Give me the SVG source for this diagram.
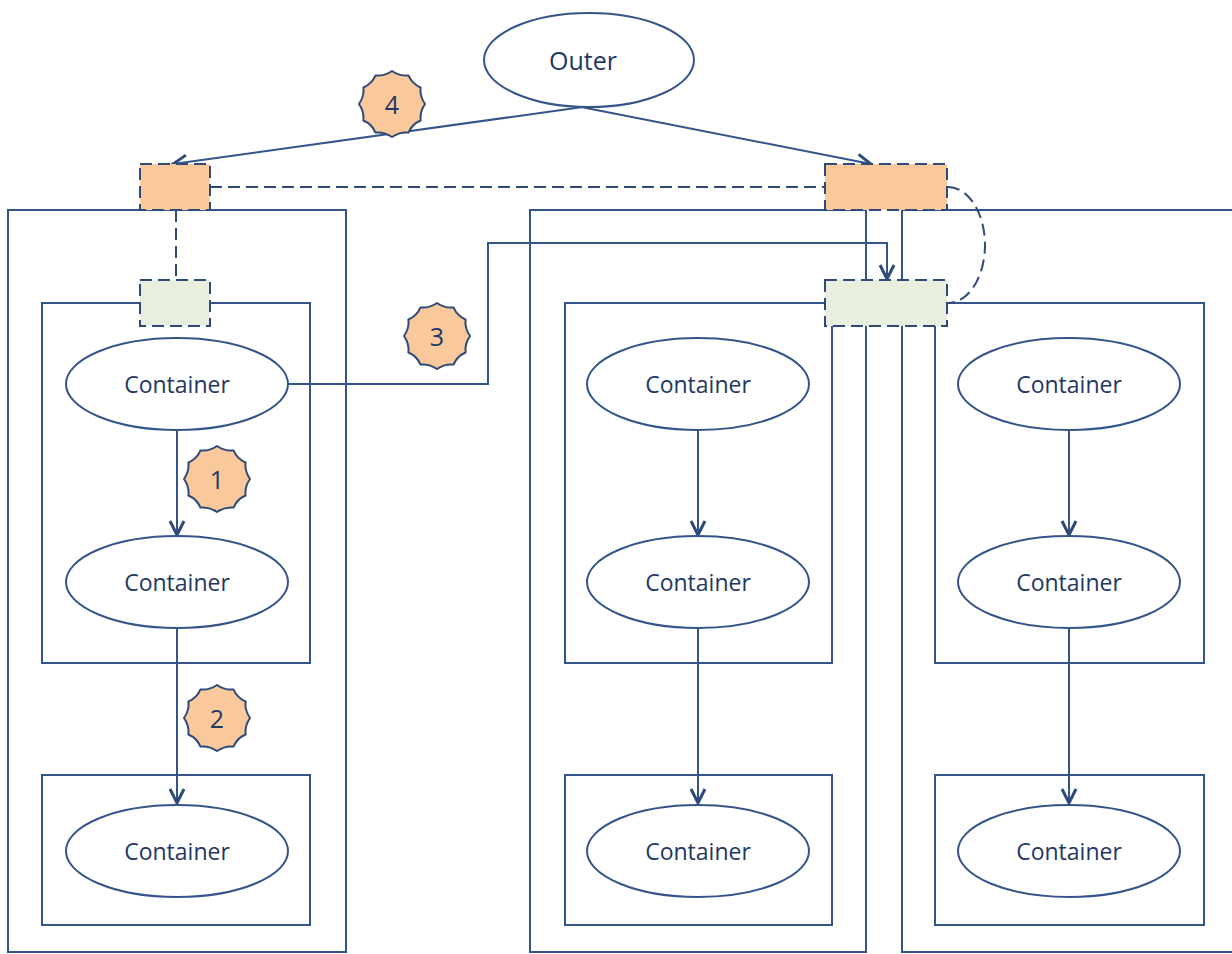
<svg xmlns="http://www.w3.org/2000/svg" width="1232" height="954" viewBox="0 0 1232 954">
<style>
.box{fill:none;stroke:#34558a;stroke-width:2}
.ell{fill:#ffffff;stroke:#34558a;stroke-width:2}
.port-o{fill:#f9c99c;stroke:#2f4a78;stroke-width:2;stroke-dasharray:12 6}
.port-g{fill:#e8efdf;stroke:#2f4a78;stroke-width:2;stroke-dasharray:12 6}
.dash{fill:none;stroke:#2f4a78;stroke-width:2;stroke-dasharray:12 6}
.arr{fill:none;stroke:#34558a;stroke-width:2;marker-end:url(#ah)}
.lbl{font-family:"Open Sans","Liberation Sans",sans-serif;font-size:23px;fill:#1f3864;text-anchor:middle;dominant-baseline:central}
.big{font-size:25px}
.badge{fill:#f9c99c;stroke:#2f4a78;stroke-width:2;stroke-linejoin:round}
.num{font-family:"Open Sans","Liberation Sans",sans-serif;font-size:25px;fill:#1f3864;text-anchor:middle;dominant-baseline:central}
</style>
<defs>
<marker id="ah" markerWidth="20" markerHeight="20" refX="15" refY="9" orient="auto" markerUnits="userSpaceOnUse">
<path d="M1,2 L15,9 L1,16" fill="none" stroke="#2f4a78" stroke-width="3"/>
</marker>
<path id="star" d="M0,-33 Q8,-27.5 16.5,-28.6 Q20.1,-20.1 28.6,-16.5 Q27.5,-8 33,0 Q27.5,8 28.6,16.5 Q20.1,20.1 16.5,28.6 Q8,27.5 0,33 Q-8,27.5 -16.5,28.6 Q-20.1,20.1 -28.6,16.5 Q-27.5,8 -33,0 Q-27.5,-8 -28.6,-16.5 Q-20.1,-20.1 -16.5,-28.6 Q-8,-27.5 0,-33Z"/>
</defs>
<rect width="1232" height="954" fill="#ffffff"/>

<g id="hosts">
<rect id="host-left" class="box" x="8" y="210" width="338" height="742"/>
<rect id="host-mid" class="box" x="530" y="210" width="336" height="742"/>
<rect id="host-right" class="box" x="902" y="210" width="340" height="742"/>
</g>

<g id="pods">
<rect id="pod-l1" class="box" x="42" y="303" width="268" height="360"/>
<rect id="pod-l2" class="box" x="42" y="775" width="268" height="150"/>
<rect id="pod-m1" class="box" x="565" y="303" width="267" height="360"/>
<rect id="pod-m2" class="box" x="565" y="775" width="267" height="150"/>
<rect id="pod-r1" class="box" x="935" y="303" width="269" height="360"/>
<rect id="pod-r2" class="box" x="935" y="775" width="269" height="150"/>
</g>

<g id="connectors">
<line class="dash" x1="210" y1="187" x2="825" y2="187"/>
<line class="dash" x1="176" y1="210" x2="176" y2="280"/>
<path class="dash" d="M948,187 A37,58 0 0 1 948,303"/>
<line class="arr" x1="590" y1="106" x2="173" y2="164"/>
<line class="arr" x1="576" y1="106" x2="871" y2="164"/>
<path class="arr" d="M288,384 H488 V243 H887 V279"/>
<line class="arr" x1="177" y1="430" x2="177" y2="535"/>
<line class="arr" x1="177" y1="628" x2="177" y2="803"/>
<line class="arr" x1="698" y1="430" x2="698" y2="535"/>
<line class="arr" x1="698" y1="628" x2="698" y2="803"/>
<line class="arr" x1="1069" y1="430" x2="1069" y2="535"/>
<line class="arr" x1="1069" y1="628" x2="1069" y2="803"/>
</g>

<g id="ports">
<rect id="port-left-outer" class="port-o" x="140" y="164" width="70" height="46"/>
<rect id="port-left-inner" class="port-g" x="140" y="280" width="70" height="46"/>
<rect id="port-right-outer" class="port-o" x="825" y="164" width="122" height="46"/>
<rect id="port-right-inner" class="port-g" x="825" y="280" width="122" height="46"/>
</g>

<g id="outer">
<ellipse class="ell" cx="589" cy="60" rx="105" ry="47"/>
<text class="lbl big" x="583" y="60">Outer</text>
</g>

<g id="c-l1"><ellipse class="ell" cx="177" cy="384" rx="111" ry="46"/><text class="lbl" x="177" y="384">Container</text></g>
<g id="c-l2"><ellipse class="ell" cx="177" cy="582" rx="111" ry="46"/><text class="lbl" x="177" y="582">Container</text></g>
<g id="c-l3"><ellipse class="ell" cx="177" cy="851" rx="111" ry="46"/><text class="lbl" x="177" y="851">Container</text></g>
<g id="c-m1"><ellipse class="ell" cx="698" cy="384" rx="111" ry="46"/><text class="lbl" x="698" y="384">Container</text></g>
<g id="c-m2"><ellipse class="ell" cx="698" cy="582" rx="111" ry="46"/><text class="lbl" x="698" y="582">Container</text></g>
<g id="c-m3"><ellipse class="ell" cx="698" cy="851" rx="111" ry="46"/><text class="lbl" x="698" y="851">Container</text></g>
<g id="c-r1"><ellipse class="ell" cx="1069" cy="384" rx="111" ry="46"/><text class="lbl" x="1069" y="384">Container</text></g>
<g id="c-r2"><ellipse class="ell" cx="1069" cy="582" rx="111" ry="46"/><text class="lbl" x="1069" y="582">Container</text></g>
<g id="c-r3"><ellipse class="ell" cx="1069" cy="851" rx="111" ry="46"/><text class="lbl" x="1069" y="851">Container</text></g>

<g id="badge-1"><use href="#star" class="badge" x="217" y="479"/><text class="num" x="217" y="479">1</text></g>
<g id="badge-2"><use href="#star" class="badge" x="217" y="718"/><text class="num" x="217" y="718">2</text></g>
<g id="badge-3"><use href="#star" class="badge" x="437" y="336"/><text class="num" x="437" y="336">3</text></g>
<g id="badge-4"><use href="#star" class="badge" x="392" y="104"/><text class="num" x="392" y="104">4</text></g>
</svg>
